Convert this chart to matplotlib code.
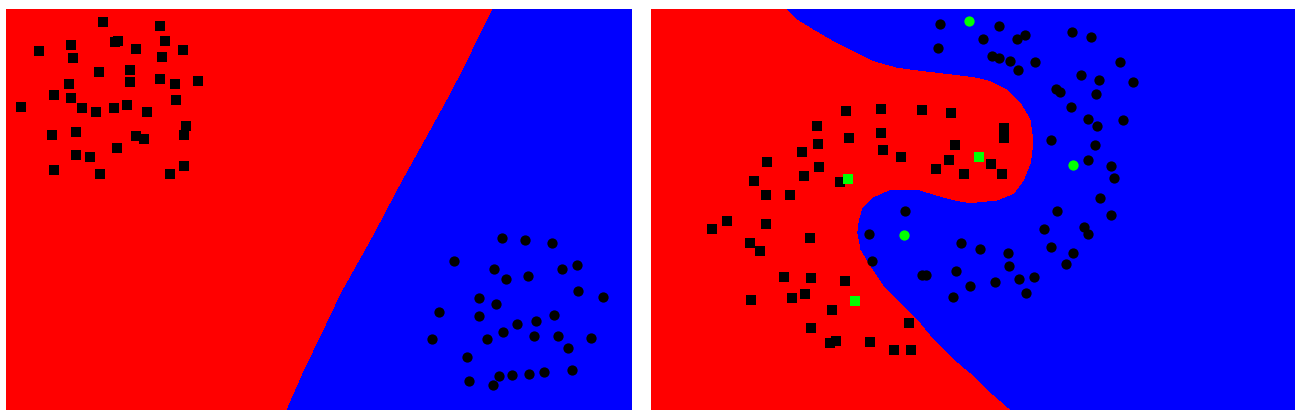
import numpy as np
import matplotlib; matplotlib.use("Agg"); import matplotlib.pyplot as plt

# values (image-pixel units, y grows downward)
# --- left panel: linear boundary ---
lin_sq_x=[102.7,160,39.3,70.7,114.7,118.3,135.7,164.7,182.7,73,162,98.7,130.3,69.3,130.3,160,175.3,198,54.3,70.7,
          21.3,82,96,114,126.7,146.7,176,185.7,184.3,52,76,136,144,116.7,75.7,90,53.7,99.7,170,183.7]
lin_sq_y=[22,26,50.7,45,41.7,40.7,49,40.7,50,58,56.7,71.7,70,84.3,82,79,84.3,81.3,94.7,97.7,
          106.7,107.7,112.3,108.3,104.7,111.7,100,126,134.7,134.7,132.3,135.7,138.7,147.7,155,157.3,169.7,174.3,173.7,165.7]
lin_ci_x=[502,525,551.7,453.7,493.7,505.7,528,562,577,578,602.7,478.7,496,439.3,478.7,517,536.3,554.3,502.7,432,
          486.7,534,557.7,591.3,568.3,467.3,572.3,498.7,512.3,529,544,469.3,493]
lin_ci_y=[238,240.3,243,260.7,269,278.7,276.3,269,265,290.7,296.7,298.3,304.3,312.3,315.7,323.7,321.3,314.7,332,338.7,
          338.7,336.3,336.3,338,347.7,356.7,370.3,376,375.3,374,372,381,384.7]
lin_bx=[491.7,479.5,463.5,446,424,401.7,371.7,340,322.7,303.3,285.7]
lin_by=[9,33.3,66.7,100,140,180,236.7,293.3,330,370,410]

# --- right panel: kernel boundary ---
rbf_sq_x=[846,880.7,922,951,816.7,880.7,849,818.3,955,802,883,900.7,949.3,767,819,936,963.5,804.3,754,839.5,
          765.7,790,1004,1004,990.5,1001.7,711.7,727.3,765.7,810,749.7,759.7,784,811.3,844.7,792.3,805,751,832,811.3,
          909,830,836,869.7,894,910.7]
rbf_sq_y=[111,108.7,109.5,112.7,126,133,137.8,144,144.8,152,150,156.7,160,162.3,166.7,168.7,174,175.7,181.3,182,
          194.7,194.7,127.7,137.7,164,174,229.3,220.7,224,238,242.7,250.7,276.7,277.7,281.3,298,294,300.3,310,328,
          323,342.7,340.7,342.3,350.3,350.3]
rbf_ci_x=[940,938.3,999.3,982.7,1016.7,1025.3,1072,1090.7,992,998.7,1009.7,1034.7,1018.3,1120,1081.3,1098.7,1133.3,1056,1060,1096.3,
          1071,1088.3,1097.3,1123,1050.7,1095.3,1087.7,1111.3,1113.7,1100,1057.3,1110.7,1044.3,1084.3,1087.7,961,979.7,1008,1050.7,1073.3,
          1008.7,1065.7,956,970,995.3,1018.7,1034,1026.3,952.7,905,868.7,872.3,921.5,926]
rbf_ci_y=[24.3,48,26,38.7,39.3,34.7,32.3,37,56,58.3,60.7,61.7,70,62.3,75,80.3,82,89,91.7,94,
          107.3,119,125.7,120,139.5,145,160.3,166.3,178.3,198,210.7,214.7,228.7,226.7,234.3,242.7,248.7,253.3,247,253,
          266,263.7,271.3,286.3,281.7,278.7,277,292.7,296.7,210.5,234,261,275.3,275.3]
sv_sq_x=[848,978.7,854.7]
sv_sq_y=[178.7,156.5,301]
sv_ci_x=[969.3,1072.7,904.3]
sv_ci_y=[21,164.7,234.7]
rbf_bx=[785,796.7,813,833,853,873,896.7,923,960,975,990,1006.7,1020,1030,1032.7,1031.7,1030,1023.3,1013.3,996.7,
        970,955,940,920,890,873.3,861.7,858.3,856.7,860,870,883.3,900,916.7,933.3,950,960,973.3,990,1009.3]
rbf_by=[9,20,30,41.7,51.7,61.7,68.3,71.7,76,78,81.7,90,103.3,120,140,153,163.3,180,193.3,200,
        202.7,200,196,190,189.3,196.7,208.3,220,233.3,250,266.7,286.7,303.3,320,340,356.7,365.7,376.7,393.3,410]

RED,BLUE,GREEN='#ff0000','#0000ff','#00ff00'

fig=plt.figure(figsize=(13.02,4.18),dpi=100)
axL=fig.add_axes([6/1302,8/418,626/1302,401/418])
axR=fig.add_axes([651/1302,8/418,644/1302,401/418])

def panel(ax,xl,bx,by,sqx,sqy,cix,ciy):
    ax.set_facecolor(BLUE)
    x0=xl[0]-20
    ax.fill(list(bx)+[x0,x0],list(by)+[by[-1],by[0]],color=RED,lw=0,antialiased=False)
    ax.plot(sqx,sqy,'s',color='k',ms=7.2,mew=0,ls='none')
    ax.plot(cix,ciy,'o',color='k',ms=7.4,mew=0,ls='none')
    ax.set_xlim(*xl); ax.set_ylim(410,9)
    ax.set_xticks([]); ax.set_yticks([])
    for s in ax.spines.values(): s.set_visible(False)

panel(axL,(6,632),lin_bx,lin_by,lin_sq_x,lin_sq_y,lin_ci_x,lin_ci_y)
panel(axR,(651,1295),rbf_bx,rbf_by,rbf_sq_x,rbf_sq_y,rbf_ci_x,rbf_ci_y)
axR.plot(sv_sq_x,sv_sq_y,'s',color=GREEN,ms=7.2,mew=0,ls='none')
axR.plot(sv_ci_x,sv_ci_y,'o',color=GREEN,ms=7.4,mew=0,ls='none')

fig.savefig("out.png",dpi=100,facecolor='white')
